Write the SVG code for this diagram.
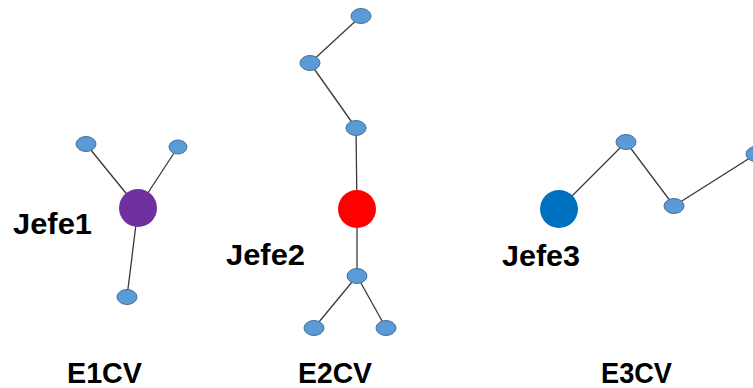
<svg xmlns="http://www.w3.org/2000/svg" width="753" height="388" viewBox="0 0 753 388">
<style>
.edge{stroke:#3a3a3a;stroke-width:1.3;fill:none}
.node{fill:#5B9BD5;stroke:#41719C;stroke-width:1}
.lbl{font-family:"Liberation Sans",Arial,sans-serif;font-weight:bold;font-size:29px;fill:#000}
</style>
<rect width="753" height="388" fill="#fff"/>
<g id="connectors">
<line class="edge" x1="86" y1="144" x2="138" y2="208"/>
<line class="edge" x1="178" y1="147" x2="138" y2="208"/>
<line class="edge" x1="138" y1="208" x2="127" y2="297"/>
<line class="edge" x1="361" y1="16" x2="310" y2="63"/>
<line class="edge" x1="310" y1="63" x2="356" y2="128"/>
<line class="edge" x1="356" y1="128" x2="357" y2="209"/>
<line class="edge" x1="357" y1="209" x2="357" y2="276"/>
<line class="edge" x1="357" y1="276" x2="314" y2="328"/>
<line class="edge" x1="357" y1="276" x2="386" y2="328"/>
<line class="edge" x1="559" y1="209" x2="626" y2="142"/>
<line class="edge" x1="626" y1="142" x2="674" y2="206"/>
<line class="edge" x1="674" y1="206" x2="756" y2="154"/>
</g>
<g id="jefe1">
<circle cx="138" cy="208" r="19" fill="#7030A0"/>
<text class="lbl" x="13" y="234" textLength="79" lengthAdjust="spacingAndGlyphs">Jefe1</text>
</g>
<g id="n1a"><ellipse class="node" cx="86" cy="144" rx="10" ry="7.5"/></g>
<g id="n1b"><ellipse class="node" cx="178" cy="147" rx="9" ry="7"/></g>
<g id="n1c"><ellipse class="node" cx="127" cy="297" rx="10" ry="7.5"/></g>
<g id="jefe2">
<circle cx="357" cy="209" r="19" fill="#FF0000"/>
<text class="lbl" x="226" y="265" textLength="79" lengthAdjust="spacingAndGlyphs">Jefe2</text>
</g>
<g id="n2a"><ellipse class="node" cx="361" cy="16" rx="10" ry="7.5"/></g>
<g id="n2b"><ellipse class="node" cx="310" cy="63" rx="10" ry="7.5"/></g>
<g id="n2c"><ellipse class="node" cx="356" cy="128" rx="10" ry="7.5"/></g>
<g id="n2d"><ellipse class="node" cx="357" cy="276" rx="10" ry="7.5"/></g>
<g id="n2e"><ellipse class="node" cx="314" cy="328" rx="10" ry="7.5"/></g>
<g id="n2f"><ellipse class="node" cx="386" cy="328" rx="10" ry="7.5"/></g>
<g id="jefe3">
<circle cx="559" cy="209" r="19" fill="#0070C0"/>
<text class="lbl" x="502" y="266" textLength="78" lengthAdjust="spacingAndGlyphs">Jefe3</text>
</g>
<g id="n3a"><ellipse class="node" cx="626" cy="142" rx="10" ry="7.5"/></g>
<g id="n3b"><ellipse class="node" cx="674" cy="206" rx="10" ry="7.5"/></g>
<g id="n3c"><ellipse class="node" cx="756" cy="154" rx="10" ry="7.5"/></g>
<g id="labels">
<text class="lbl" x="67" y="383" textLength="75" lengthAdjust="spacingAndGlyphs">E1CV</text>
<text class="lbl" x="298" y="383" textLength="74" lengthAdjust="spacingAndGlyphs">E2CV</text>
<text class="lbl" x="601" y="383" textLength="71" lengthAdjust="spacingAndGlyphs">E3CV</text>
</g>
</svg>
